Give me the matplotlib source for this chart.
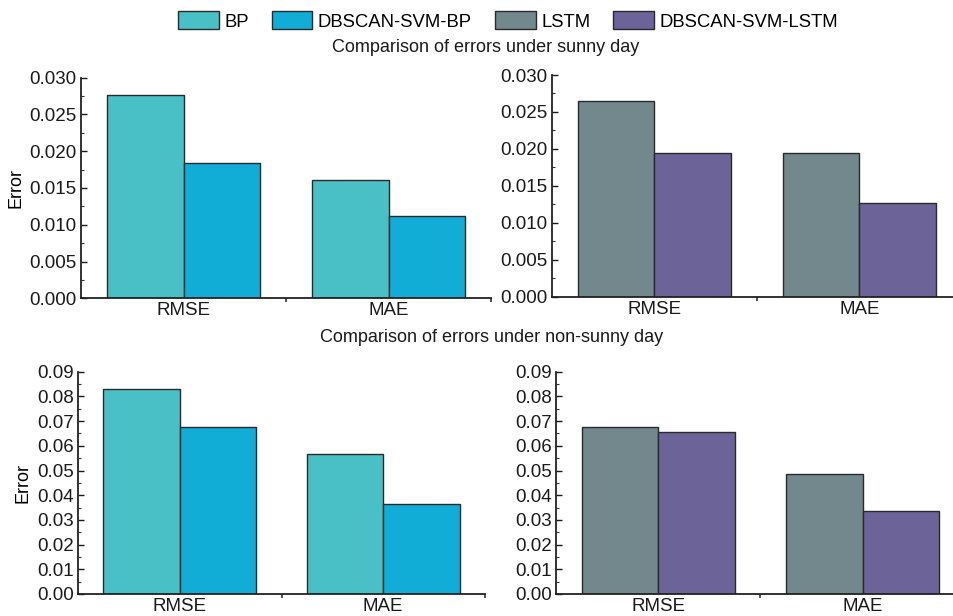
import numpy as np
import matplotlib.pyplot as plt
from matplotlib.patches import Patch
from matplotlib.ticker import MultipleLocator, FixedLocator

plt.rcParams['font.family'] = ['Liberation Sans', 'DejaVu Sans']

# Error metrics for each model
metrics = ['RMSE', 'MAE']
sunny_bp = [0.0277, 0.0161]
sunny_dbscan_bp = [0.0184, 0.0112]
sunny_lstm = [0.0265, 0.0194]
sunny_dbscan_lstm = [0.0194, 0.0127]
nonsunny_bp = [0.0830, 0.0566]
nonsunny_dbscan_bp = [0.0676, 0.0364]
nonsunny_lstm = [0.0676, 0.0485]
nonsunny_dbscan_lstm = [0.0655, 0.0335]

names = ['BP', 'DBSCAN-SVM-BP', 'LSTM', 'DBSCAN-SVM-LSTM']
colors = ['#48C0C6', '#12ADD6', '#72888C', '#6C6399']
edge = '#2a2a2a'

W, H = 954, 616
fig = plt.figure(figsize=(W / 100, H / 100), dpi=100)


def add_ax(left, top, bottom, width):
    return fig.add_axes([left / W, 1 - bottom / H, width / W, (bottom - top) / H])


def draw(ax, v1, v2, c1, c2, ymax, major, minor, fmt, ylabel=False):
    x = np.arange(len(metrics))
    w = 0.375
    ax.bar(x - w / 2, v1, w, color=c1, edgecolor=edge, linewidth=1.0)
    ax.bar(x + w / 2, v2, w, color=c2, edgecolor=edge, linewidth=1.0)
    ax.set_xlim(-0.5, 1.5)
    ax.set_ylim(0, ymax)
    ax.set_xticks(x)
    ax.set_xticklabels(metrics)
    ax.xaxis.set_minor_locator(FixedLocator([0.5, 1.5]))
    ax.tick_params(axis='x', which='major', length=0, pad=3, labelsize=13.5, colors='#1a1a1a')
    ax.tick_params(axis='x', which='minor', length=3, direction='out', width=1.2, color='#333')
    ax.yaxis.set_major_locator(MultipleLocator(major))
    ax.yaxis.set_minor_locator(MultipleLocator(minor))
    ax.yaxis.set_major_formatter(plt.FormatStrFormatter(fmt))
    ax.tick_params(axis='y', which='major', direction='in', length=4, width=1.0,
                   labelsize=13.5, pad=3, colors='#1a1a1a')
    ax.tick_params(axis='y', which='minor', direction='in', length=2, width=0.8, color='#333')
    for s in ['top', 'right']:
        ax.spines[s].set_visible(False)
    for s in ['left', 'bottom']:
        ax.spines[s].set_linewidth(1.3)
        ax.spines[s].set_color('#222')
    if ylabel:
        ax.set_ylabel('Error', fontsize=13, labelpad=4)


ax1 = add_ax(81, 77.6, 298.3, 410)
draw(ax1, sunny_bp, sunny_dbscan_bp, colors[0], colors[1], 0.030, 0.005, 0.0025, '%.3f', True)
ax2 = add_ax(552, 75, 296.7, 410)
draw(ax2, sunny_lstm, sunny_dbscan_lstm, colors[2], colors[3], 0.030, 0.005, 0.0025, '%.3f')
ax3 = add_ax(78, 371.7, 594, 407)
draw(ax3, nonsunny_bp, nonsunny_dbscan_bp, colors[0], colors[1], 0.09, 0.01, 0.005, '%.2f', True)
ax4 = add_ax(556, 371.7, 594, 409)
draw(ax4, nonsunny_lstm, nonsunny_dbscan_lstm, colors[2], colors[3], 0.09, 0.01, 0.005, '%.2f')

fig.text(486 / W, 1 - 48 / H, 'Comparison of errors under sunny day',
         ha='center', va='center', fontsize=13, color='#1a1a1a')
fig.text(492 / W, 1 - 338 / H, 'Comparison of errors under non-sunny day',
         ha='center', va='center', fontsize=13, color='#1a1a1a')

handles = [Patch(facecolor=c, edgecolor=edge, linewidth=1.0) for c in colors]
fig.legend(handles, names, loc='center', bbox_to_anchor=(508 / W, 1 - 21 / H), ncol=4,
           frameon=False, fontsize=13.3, handlelength=2.2, handleheight=1.08,
           handletextpad=0.3, columnspacing=1.25, borderaxespad=0, borderpad=0)

fig.savefig('out.png', dpi=100)
